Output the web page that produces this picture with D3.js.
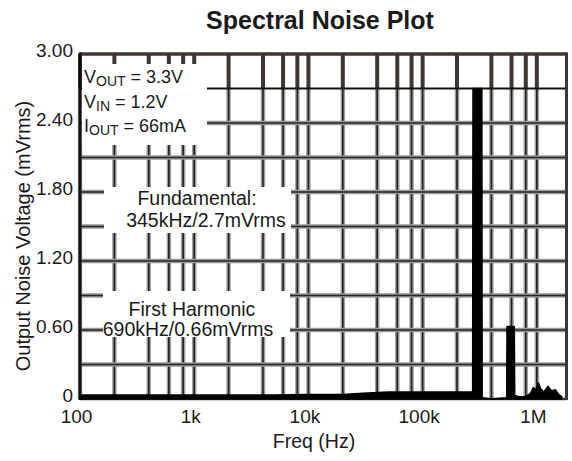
<!DOCTYPE html>
<html>
<head>
<meta charset="utf-8">
<script src="https://cdn.jsdelivr.net/npm/d3@7"></script>
<style>
  html, body { margin: 0; padding: 0; background: #ffffff; }
  svg { display: block; }
  text { font-family: "Liberation Sans", Arial, Helvetica, sans-serif; fill: #1a1a1a; }
</style>
</head>
<body>
<svg id="chart" width="572" height="461"></svg>
<script>
// ---- data ----
const chartTitle = "Spectral Noise Plot";
const xAxisTitle = "Freq (Hz)";
const yAxisTitle = "Output Noise Voltage (mVrms)";

const xTickValues = [100, 1000, 10000, 100000, 1000000];
const xTickLabels = ["100", "1k", "10k", "100k", "1M"];
const yTickValues = [0, 0.6, 1.2, 1.8, 2.4, 3.0];
const yTickLabels = ["0", "0.60", "1.20", "1.80", "2.40", "3.00"];

const xGridMultipliers = [1, 2, 4, 6, 8];
const xGridDecades = [100, 1000, 10000, 100000, 1000000];
const yGridValues = [0.3, 0.6, 0.9, 1.2, 1.5, 1.8, 2.1, 2.4];
const yTopBandValue = 2.7;

// spectrum (frequency in Hz, noise in mVrms)
const freqHz = [100, 1000, 5000, 10000, 20000, 30000, 50000, 100000, 200000, 274000,
                276000, 330000, 332000, 400000, 545000, 548000, 635000, 640000, 700000,
                800000, 880000, 930000, 980000, 1030000, 1080000, 1150000, 1250000,
                1350000, 1450000, 1550000, 1650000];
const noiseMv = [0.035, 0.035, 0.035, 0.04, 0.04, 0.05, 0.06, 0.06, 0.06, 0.06,
                 2.70, 2.70, 0.01, 0.0, 0.01, 0.63, 0.63, 0.03, 0.02,
                 0.02, 0.05, 0.10, 0.08, 0.14, 0.09, 0.06, 0.11,
                 0.07, 0.08, 0.04, 0.02];

const legendLines = [
  { main: "V", sub: "OUT", rest: " = 3.3V" },
  { main: "V", sub: "IN", rest: " = 1.2V" },
  { main: "I", sub: "OUT", rest: " = 66mA" }
];
const annoFundamental = ["Fundamental:", "345kHz/2.7mVrms"];
const annoHarmonic = ["First Harmonic", "690kHz/0.66mVrms"];

// ---- drawing ----
const svg = d3.select("#chart");
const x = d3.scaleLog().domain([100, 1.8e6]).range([80, 566]);
const y = d3.scaleLinear().domain([0, 3]).range([399, 54]);

const frameColor = "#3d3632";
const xGrid = [];
xGridDecades.forEach(d => xGridMultipliers.forEach(m => {
  const v = d * m;
  if (v >= 100 && v <= 1.8e6) xGrid.push(v);
}));

const g = svg.append("g");

// vertical gridlines (below top band)
g.selectAll("line.vh").data(xGrid).join("line")
  .attr("x1", d => x(d)).attr("x2", d => x(d))
  .attr("y1", y(yTopBandValue)).attr("y2", y(0))
  .attr("stroke", "#a0a0a0").attr("stroke-width", 4.5);
g.selectAll("line.vc").data(xGrid).join("line")
  .attr("x1", d => x(d)).attr("x2", d => x(d))
  .attr("y1", y(yTopBandValue)).attr("y2", y(0))
  .attr("stroke", "#1e1e1e").attr("stroke-width", 1.6);

// horizontal gridlines
g.selectAll("line.hh").data(yGridValues).join("line")
  .attr("x1", x(100)).attr("x2", 566)
  .attr("y1", d => y(d)).attr("y2", d => y(d))
  .attr("stroke", "#9a9a9a").attr("stroke-width", 4.5);
g.selectAll("line.hc").data(yGridValues).join("line")
  .attr("x1", x(100)).attr("x2", 566)
  .attr("y1", d => y(d)).attr("y2", d => y(d))
  .attr("stroke", "#262626").attr("stroke-width", 1.6);

// top band ticks
g.selectAll("line.tb").data(xGrid).join("line")
  .attr("x1", d => x(d)).attr("x2", d => x(d))
  .attr("y1", y(3)).attr("y2", y(yTopBandValue))
  .attr("stroke", frameColor).attr("stroke-width", 4);
g.append("line")
  .attr("x1", x(100)).attr("x2", 566)
  .attr("y1", y(yTopBandValue)).attr("y2", y(yTopBandValue))
  .attr("stroke", "#111").attr("stroke-width", 2.2);

// frame
g.append("line").attr("x1", 80).attr("x2", 567).attr("y1", y(3)).attr("y2", y(3))
  .attr("stroke", frameColor).attr("stroke-width", 3.5);
g.append("line").attr("x1", 566.5).attr("x2", 566.5).attr("y1", y(3) - 1.5).attr("y2", y(0) + 1)
  .attr("stroke", frameColor).attr("stroke-width", 3);
g.append("line").attr("x1", 80).attr("x2", 567).attr("y1", y(0)).attr("y2", y(0))
  .attr("stroke", frameColor).attr("stroke-width", 2.5);
g.append("line").attr("x1", 80).attr("x2", 80).attr("y1", y(3) - 1.5).attr("y2", y(0) + 1)
  .attr("stroke", "#111").attr("stroke-width", 3);

// white label boxes
const boxes = [
  { x0: 82, x1: 207, y0: 64, y1: 145 },
  { x0: 104, x1: 291, y0: 187, y1: 233 },
  { x0: 103, x1: 290, y0: 291, y1: 337 }
];
g.selectAll("rect.box").data(boxes).join("rect")
  .attr("x", d => d.x0).attr("y", d => d.y0)
  .attr("width", d => d.x1 - d.x0).attr("height", d => d.y1 - d.y0)
  .attr("fill", "#ffffff");

// data
const pts = freqHz.map((f, i) => ({ f, v: noiseMv[i] }));
const area = d3.area().x(d => x(d.f)).y0(y(0)).y1(d => y(d.v));
g.append("path").datum(pts).attr("d", area).attr("fill", "#000")
  .attr("stroke", "#000").attr("stroke-width", 1.5).attr("stroke-linejoin", "round");

// axes labels
const xAxis = d3.axisBottom(x).tickValues(xTickValues)
  .tickFormat((d, i) => xTickLabels[i]).tickSize(0).tickPadding(0);
const xa = svg.append("g").attr("transform", `translate(-4, ${y(0)})`).call(xAxis);
xa.select(".domain").remove();
xa.selectAll("text").attr("dy", null).attr("y", 24).attr("font-size", 19)
  .attr("font-family", "Liberation Sans, Arial, sans-serif").attr("fill", "#1a1a1a");

const yAxis = d3.axisLeft(y).tickValues(yTickValues)
  .tickFormat((d, i) => yTickLabels[i]).tickSize(0).tickPadding(0);
const ya = svg.append("g").attr("transform", `translate(73, -4)`).call(yAxis);
ya.select(".domain").remove();
ya.selectAll("text").attr("dy", "0.36em").attr("x", 0).attr("font-size", 19)
  .attr("font-family", "Liberation Sans, Arial, sans-serif").attr("fill", "#1a1a1a");

// titles
svg.append("text").attr("x", 320).attr("y", 29).attr("text-anchor", "middle")
  .attr("font-size", 25).attr("font-weight", "bold").text(chartTitle);
svg.append("text").attr("x", 314).attr("y", 448).attr("text-anchor", "middle")
  .attr("font-size", 19.5).text(xAxisTitle);
svg.append("text").attr("transform", "translate(30, 236) rotate(-90)")
  .attr("text-anchor", "middle").attr("font-size", 20).text(yAxisTitle);

// legend
const leg = svg.append("g");
legendLines.forEach((l, i) => {
  const t = leg.append("text").attr("x", 84).attr("y", 83 + i * 24.5).attr("font-size", 18);
  t.append("tspan").text(l.main);
  t.append("tspan").attr("font-size", 14).attr("dy", 3).text(l.sub);
  t.append("tspan").attr("dy", -3).text(l.rest);
});

// annotations
annoFundamental.forEach((s, i) => {
  svg.append("text").attr("x", i === 0 ? 197 : 206).attr("y", 205 + i * 22)
    .attr("text-anchor", "middle").attr("font-size", 19.5).text(s);
});
annoHarmonic.forEach((s, i) => {
  svg.append("text").attr("x", i === 0 ? 192 : 188).attr("y", 316 + i * 20)
    .attr("text-anchor", "middle").attr("font-size", 19.5).text(s);
});
</script>
</body>
</html>
